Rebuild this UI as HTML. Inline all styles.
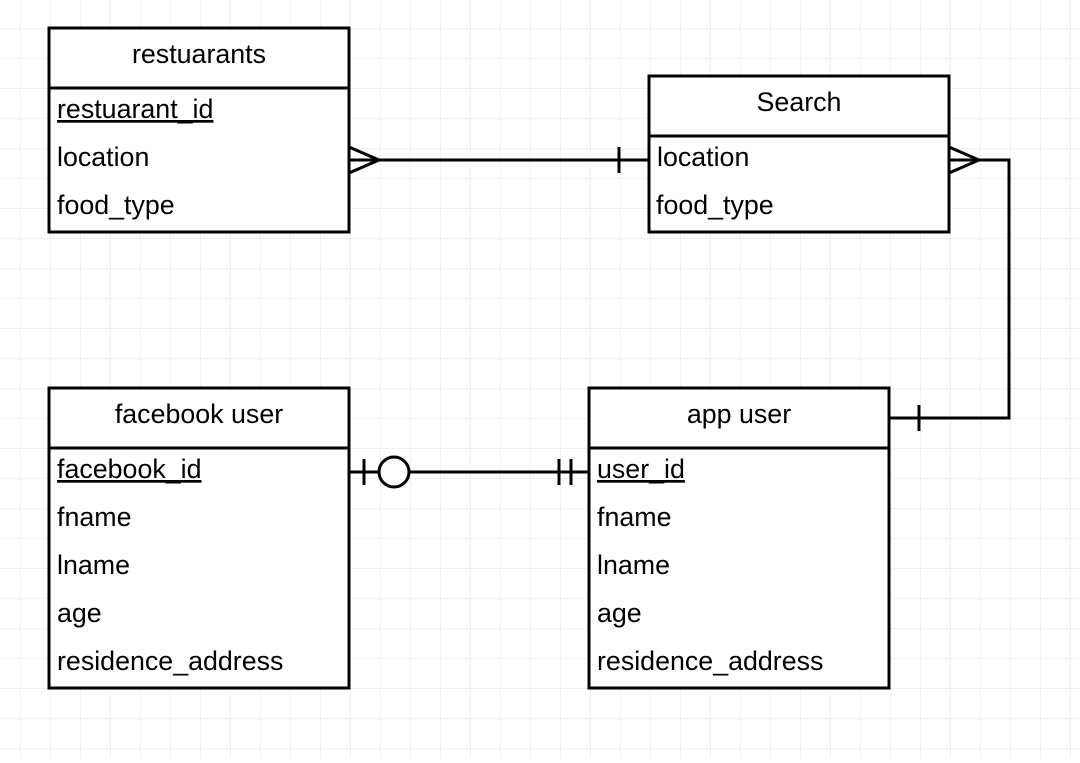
<!DOCTYPE html>
<html><head><style>
body{margin:0;width:1080px;height:758px;background:#fff;overflow:hidden;}
</style></head><body>
<svg width="1080" height="758" xmlns="http://www.w3.org/2000/svg" font-family="Liberation Sans, sans-serif" font-size="26.8">
<defs><pattern id="g" x="20" y="-2" width="30" height="30" patternUnits="userSpaceOnUse">
<path d="M0 0H30M0 0V30" stroke="#e0e0e0" stroke-width="1" fill="none"/></pattern></defs>
<rect width="1080" height="758" fill="url(#g)"/>
<g stroke="#000" stroke-width="3" fill="#fff">
<rect x="49" y="28" width="300" height="204"/><line x1="49" y1="88" x2="349" y2="88"/>
<rect x="649" y="76" width="300" height="156"/><line x1="649" y1="136" x2="949" y2="136"/>
<rect x="49" y="388" width="300" height="300"/><line x1="49" y1="448" x2="349" y2="448"/>
<rect x="589" y="388" width="300" height="300"/><line x1="589" y1="448" x2="889" y2="448"/>
<g fill="none">
<path d="M349 160H649M349 147L379 160L349 173M619 147V173"/>
<path d="M949 160H1009V418H889M949 147L979 160L949 173M919 405V431"/>
<path d="M349 472H379M409 472H589M364 459V485M559 459V485M571 459V485"/>
</g>
<circle cx="394" cy="472" r="15"/>
</g>
<g fill="#000">
<text x="199" y="63" text-anchor="middle">restuarants</text>
<text x="57" y="118" text-decoration="underline">restuarant_id</text>
<text x="57" y="166">location</text>
<text x="57" y="214">food_type</text>
<text x="799" y="111" text-anchor="middle">Search</text>
<text x="657" y="166">location</text>
<text x="656" y="214">food_type</text>
<text x="199" y="423" text-anchor="middle">facebook user</text>
<text x="57" y="478" text-decoration="underline">facebook_id</text>
<text x="57" y="526">fname</text>
<text x="57" y="574">lname</text>
<text x="57" y="622">age</text>
<text x="57" y="670">residence_address</text>
<text x="739" y="423" text-anchor="middle">app user</text>
<text x="597" y="478" text-decoration="underline">user_id</text>
<text x="597" y="526">fname</text>
<text x="597" y="574">lname</text>
<text x="597" y="622">age</text>
<text x="597" y="670">residence_address</text>
</g>
</svg>
</body></html>
